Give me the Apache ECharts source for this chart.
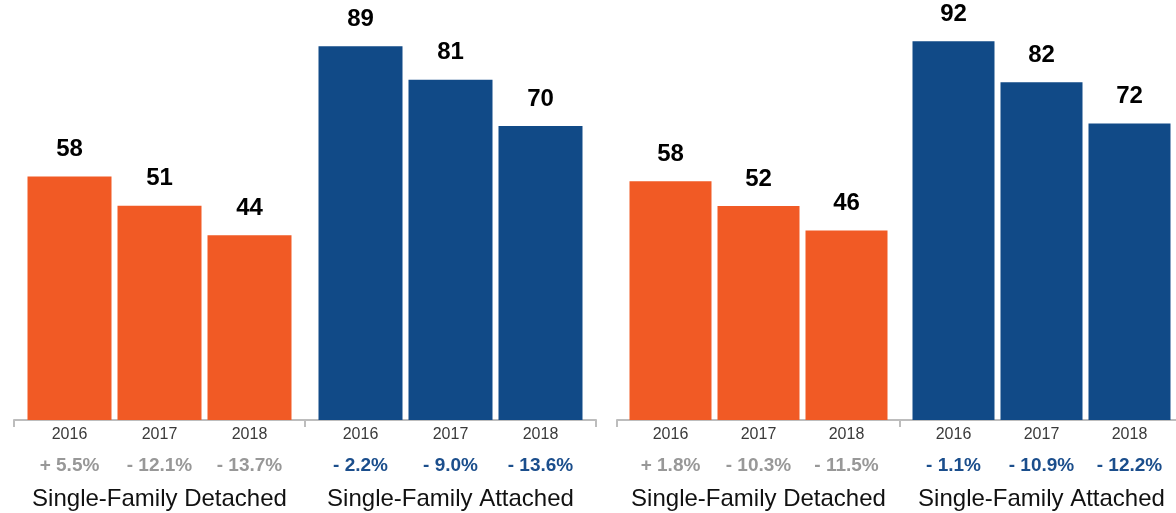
<!DOCTYPE html>
<html>
<head>
<meta charset="utf-8">
<script src="https://cdn.jsdelivr.net/npm/echarts@6/dist/echarts.min.js"></script>
<style>
  html, body { margin: 0; padding: 0; background: #ffffff; }
  #chart { width: 1176px; height: 513px; }
</style>
</head>
<body>
<div id="chart"></div>
<script>
// Categories
const years = ['2016', '2017', '2018'];
const groups = ['Single-Family Detached', 'Single-Family Attached'];

// Left panel values and year-over-year change (%)
const detachedA = [58, 51, 44];
const attachedA = [89, 81, 70];
const detachedChangeA = [5.5, -12.1, -13.7];
const attachedChangeA = [-2.2, -9.0, -13.6];

// Right panel values and year-over-year change (%)
const detachedB = [58, 52, 46];
const attachedB = [92, 82, 72];
const detachedChangeB = [1.8, -10.3, -11.5];
const attachedChangeB = [-1.1, -10.9, -12.2];

const ORANGE = '#F15A25';
const BLUE = '#114A87';
const AXIS_GREY = '#BDBDBD';
const FONT = "'Liberation Sans', Arial, Helvetica, sans-serif";

function fmtChange(v) {
  return (v >= 0 ? '+ ' : '- ') + Math.abs(v).toFixed(1) + '%';
}

const panels = [
  { detached: detachedA, attached: attachedA, dCh: detachedChangeA, aCh: attachedChangeA,
    left: 14, width: 582, barWidth: 84, yMax: 100 },
  { detached: detachedB, attached: attachedB, dCh: detachedChangeB, aCh: attachedChangeB,
    left: 617, width: 566, barWidth: 82, yMax: 102 }
];

const grid = [], xAxis = [], yAxis = [], series = [];

panels.forEach((p, i) => {
  const step = p.barWidth + 6;
  grid.push({
    left: p.left, top: 0, width: p.width, height: 420,
    containLabel: false, outerBoundsMode: 'none'
  });
  xAxis.push({
    gridIndex: i,
    type: 'category',
    data: groups,
    offset: 2,
    axisLine: { lineStyle: { color: AXIS_GREY, width: 2 } },
    axisTick: { show: true, length: 7, lineStyle: { color: AXIS_GREY, width: 2 } },
    axisLabel: {
      interval: 0,
      margin: 3,
      fontFamily: FONT,
      formatter: (name, idx) => {
        const ch = idx === 0 ? p.dCh : p.aCh;
        const key = idx === 0 ? 'pO' : 'pB';
        const l1 = years.map(y => '{y|' + y + '}').join('');
        const l2 = ch.map(v => '{' + key + '|' + fmtChange(v) + '}').join('');
        const l3 = '{g|' + name + '}';
        return [l1, l2, l3].join('\n');
      },
      rich: {
        y: { width: step, align: 'center', fontSize: 16, color: '#3a3a3a',
             lineHeight: 20, fontFamily: FONT },
        pO: { width: step, align: 'center', fontSize: 19, fontWeight: 'bold',
              color: '#989898', lineHeight: 41, fontFamily: FONT },
        pB: { width: step, align: 'center', fontSize: 19, fontWeight: 'bold',
              color: '#1B4E8C', lineHeight: 41, fontFamily: FONT },
        g: { fontSize: 24, color: '#111111', lineHeight: 27, fontFamily: FONT }
      }
    }
  });
  yAxis.push({ gridIndex: i, type: 'value', min: 0, max: p.yMax, show: false });

  years.forEach((yr, j) => {
    series.push({
      name: yr,
      type: 'bar',
      xAxisIndex: i,
      yAxisIndex: i,
      data: [p.detached[j], p.attached[j]],
      barWidth: p.barWidth,
      barGap: (6 / p.barWidth * 100).toFixed(2) + '%',
      itemStyle: { color: params => (params.dataIndex === 0 ? ORANGE : BLUE) },
      label: {
        show: true, position: 'top', distance: 15,
        fontSize: 24, fontWeight: 'bold', color: '#000000',
        lineHeight: 24, fontFamily: FONT
      },
      silent: true
    });
  });
});

const chart = echarts.init(document.getElementById('chart'), null, { renderer: 'canvas' });
chart.setOption({
  animation: false,
  backgroundColor: '#ffffff',
  grid, xAxis, yAxis, series
});
</script>
</body>
</html>
